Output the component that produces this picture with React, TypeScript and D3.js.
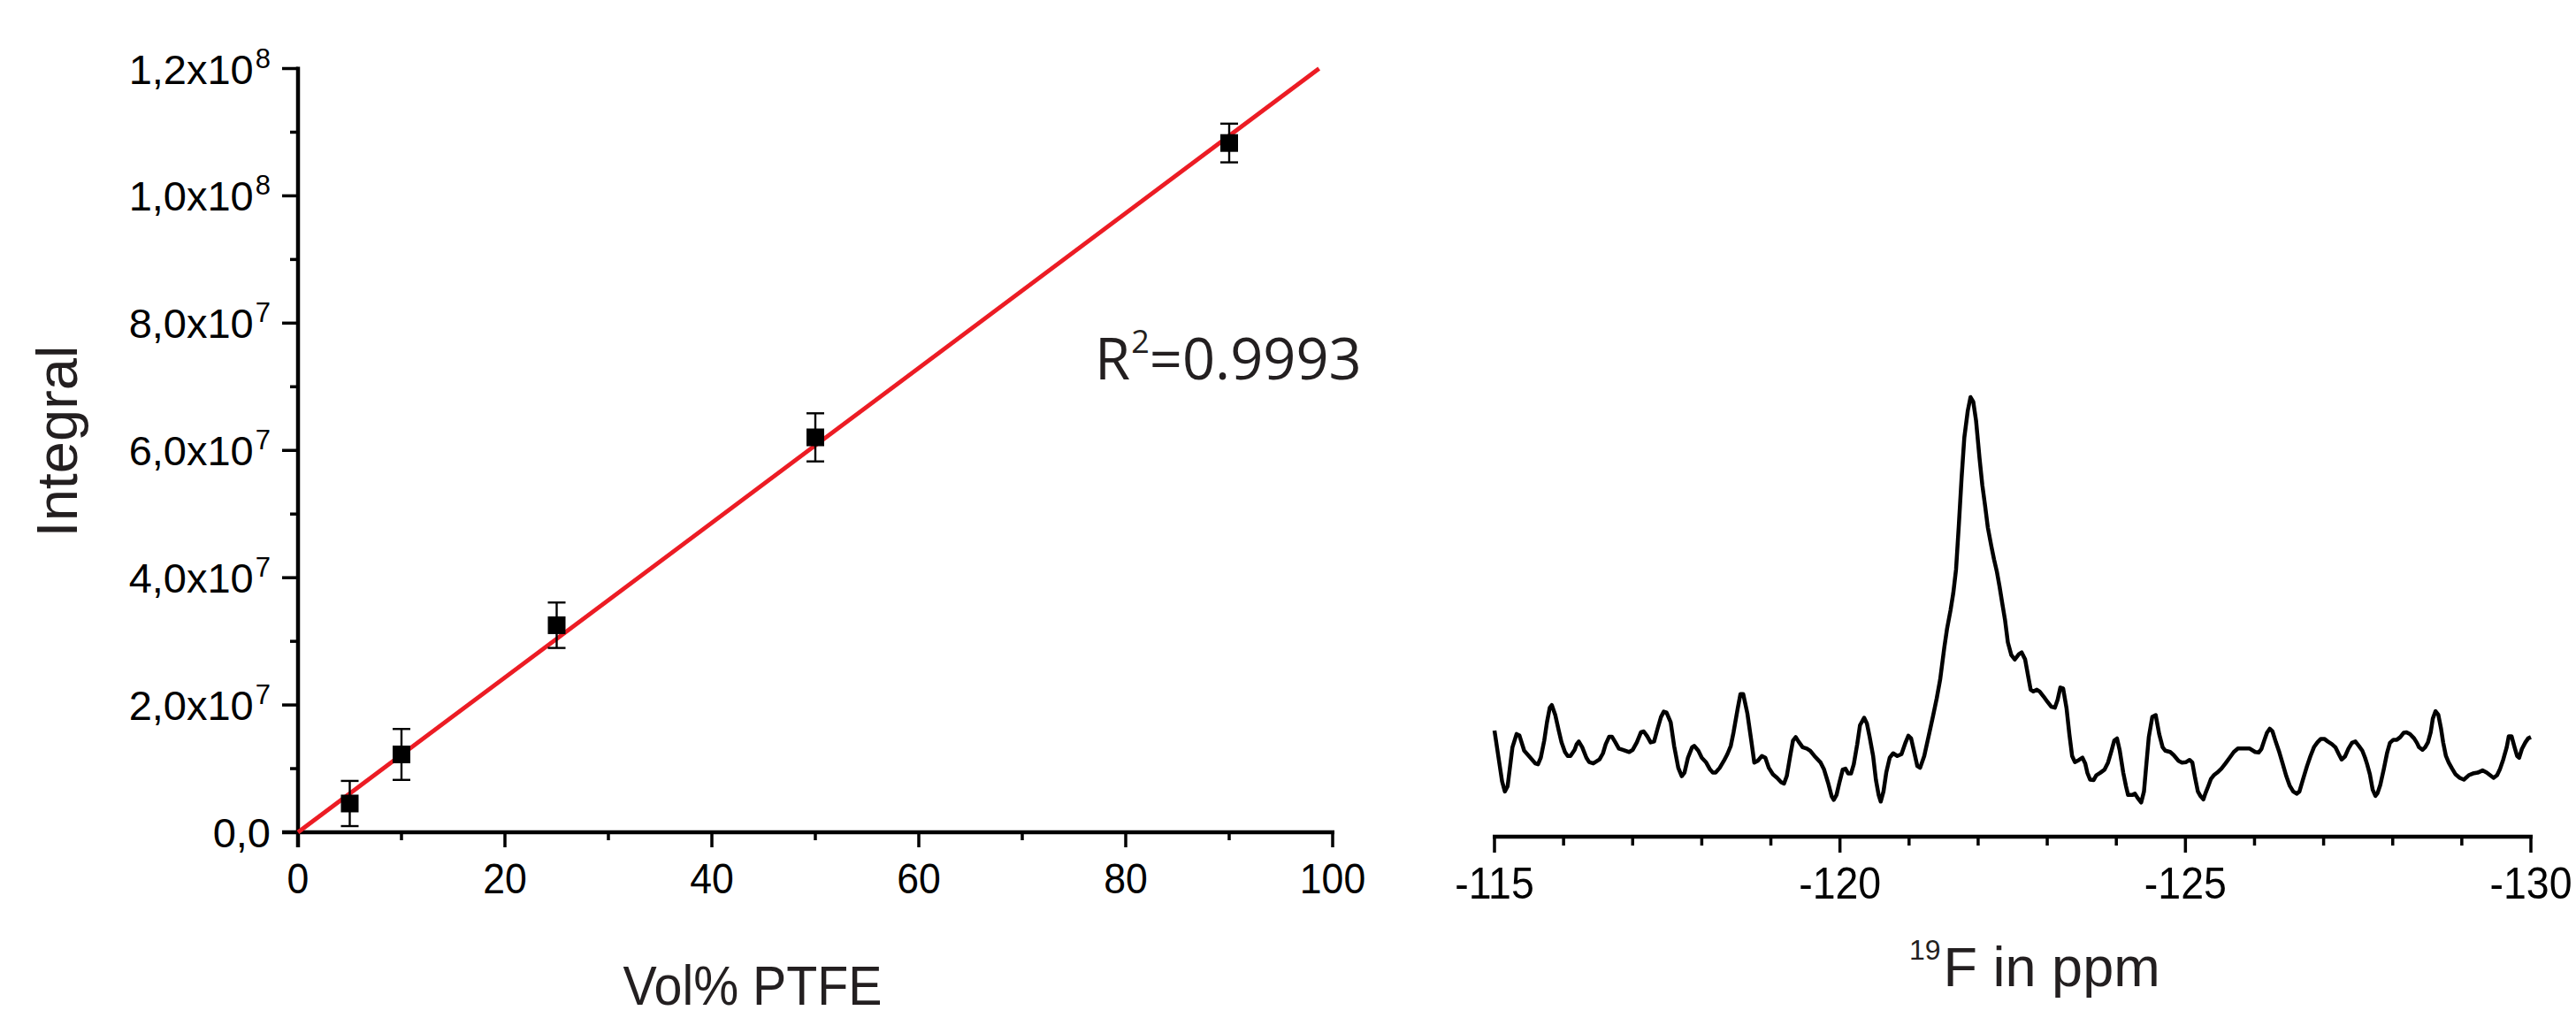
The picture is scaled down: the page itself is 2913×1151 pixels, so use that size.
import React from "react";
import * as d3 from "d3";

// ---------- Left panel: calibration ----------
const volPercent = [5, 10, 25, 50, 90];
const integrals = [4.52e6, 12.23e6, 32.53e6, 62.05e6, 108.3e6];
const integralErrors = [3.55e6, 4.0e6, 3.57e6, 3.78e6, 3.04e6];
const fitSlope = 1.216e6; // integral per vol%
const r2Text = "=0.9993";
const xTicksLeft = [0, 20, 40, 60, 80, 100];
const xMinorLeft = [10, 30, 50, 70, 90];
const yTicksLeft = [0, 2e7, 4e7, 6e7, 8e7, 1e8, 1.2e8];
const yMinorLeft = [1e7, 3e7, 5e7, 7e7, 9e7, 1.1e8];

// ---------- Right panel: 19F spectrum ----------
const specTicks = [-115, -120, -125, -130];
const specMinor = [-116, -117, -118, -119, -121, -122, -123, -124, -126, -127, -128, -129];
const spectrum: [number, number][] = [
  [-115.0, 24.0], [-115.11, 12.4], [-115.15, 10.1], [-115.19, 11.3], [-115.26, 20.2], [-115.32, 23.2],
  [-115.36, 22.9], [-115.43, 19.4], [-115.52, 17.8], [-115.59, 16.5], [-115.63, 16.3], [-115.67, 17.8],
  [-115.72, 21.7], [-115.76, 25.9], [-115.8, 29.2], [-115.83, 29.8], [-115.88, 27.5], [-115.93, 24.0],
  [-115.97, 21.3], [-116.02, 19.1], [-116.06, 18.2], [-116.1, 18.2], [-116.16, 19.6], [-116.19, 20.9],
  [-116.22, 21.5], [-116.27, 20.2], [-116.33, 17.8], [-116.37, 16.8], [-116.43, 16.5], [-116.52, 17.4],
  [-116.57, 18.8], [-116.61, 20.9], [-116.66, 22.6], [-116.7, 22.6], [-116.75, 21.3], [-116.8, 19.9],
  [-116.86, 19.6], [-116.95, 19.1], [-117.0, 19.6], [-117.06, 21.3], [-117.12, 23.6], [-117.16, 23.8],
  [-117.21, 22.7], [-117.26, 21.3], [-117.31, 21.5], [-117.36, 24.4], [-117.41, 27.1], [-117.45, 28.3],
  [-117.49, 28.1], [-117.55, 25.9], [-117.6, 20.5], [-117.66, 15.5], [-117.71, 13.6], [-117.75, 14.4],
  [-117.8, 17.8], [-117.86, 20.2], [-117.89, 20.5], [-117.95, 19.4], [-118.0, 17.8], [-118.06, 16.8],
  [-118.12, 15.1], [-118.16, 14.4], [-118.2, 14.4], [-118.26, 15.5], [-118.32, 17.1], [-118.37, 18.6],
  [-118.42, 20.5], [-118.46, 23.6], [-118.52, 29.0], [-118.56, 32.3], [-118.6, 32.3], [-118.66, 27.9],
  [-118.72, 21.3], [-118.76, 16.7], [-118.81, 17.1], [-118.87, 18.2], [-118.92, 17.8], [-118.97, 15.5],
  [-119.03, 14.0], [-119.09, 13.2], [-119.15, 12.2], [-119.19, 11.9], [-119.23, 13.6], [-119.28, 18.2],
  [-119.32, 21.7], [-119.36, 22.5], [-119.4, 21.5], [-119.46, 20.2], [-119.52, 19.9], [-119.57, 19.4],
  [-119.63, 18.2], [-119.72, 16.7], [-119.77, 15.1], [-119.83, 12.0], [-119.88, 9.0], [-119.91, 8.2],
  [-119.95, 9.3], [-119.99, 12.0], [-120.04, 15.1], [-120.08, 15.3], [-120.12, 14.2], [-120.16, 14.2],
  [-120.2, 16.3], [-120.25, 20.9], [-120.29, 25.2], [-120.35, 26.9], [-120.39, 25.6], [-120.43, 22.5],
  [-120.48, 18.2], [-120.52, 12.8], [-120.56, 9.3], [-120.59, 7.8], [-120.63, 10.1], [-120.67, 14.4],
  [-120.72, 17.8], [-120.77, 18.8], [-120.83, 18.2], [-120.89, 18.6], [-120.95, 21.3], [-120.99, 22.8],
  [-121.03, 22.2], [-121.07, 19.4], [-121.12, 15.9], [-121.16, 15.5], [-121.22, 18.2], [-121.29, 23.2],
  [-121.35, 27.5], [-121.4, 31.3], [-121.45, 35.6], [-121.51, 42.9], [-121.55, 47.2], [-121.6, 51.4],
  [-121.64, 55.3], [-121.68, 60.7], [-121.72, 70.7], [-121.76, 81.5], [-121.8, 90.8], [-121.85, 96.9],
  [-121.89, 100.0], [-121.93, 98.9], [-121.97, 94.6], [-122.02, 86.1], [-122.06, 80.0], [-122.1, 75.3],
  [-122.14, 70.3], [-122.19, 66.1], [-122.23, 63.0], [-122.27, 60.3], [-122.31, 56.8], [-122.35, 52.9],
  [-122.39, 49.1], [-122.43, 44.1], [-122.48, 41.2], [-122.53, 40.2], [-122.59, 41.4], [-122.63, 41.8],
  [-122.68, 40.2], [-122.72, 36.7], [-122.76, 33.3], [-122.8, 32.9], [-122.85, 33.3], [-122.89, 32.9],
  [-122.95, 31.7], [-123.0, 30.6], [-123.06, 29.4], [-123.11, 29.2], [-123.15, 31.0], [-123.19, 33.8],
  [-123.23, 33.6], [-123.28, 29.0], [-123.32, 23.2], [-123.36, 18.2], [-123.4, 16.8],
  [-123.46, 17.3], [-123.51, 17.8], [-123.55, 16.5], [-123.58, 14.4], [-123.62, 12.8], [-123.67, 12.7],
  [-123.71, 13.8], [-123.77, 14.4], [-123.83, 15.1], [-123.88, 16.7], [-123.93, 19.4], [-123.97, 21.7],
  [-124.01, 22.2], [-124.05, 19.4], [-124.1, 14.4], [-124.14, 11.3], [-124.17, 9.3], [-124.23, 9.3],
  [-124.27, 9.6], [-124.31, 8.6], [-124.36, 7.6], [-124.4, 10.1], [-124.43, 15.5], [-124.47, 22.5],
  [-124.52, 27.1], [-124.57, 27.5], [-124.62, 23.2], [-124.67, 20.2], [-124.71, 19.4], [-124.78, 19.1],
  [-124.83, 18.4], [-124.9, 17.1], [-124.95, 16.7], [-125.01, 16.8], [-125.06, 17.3], [-125.1, 16.7],
  [-125.14, 13.2], [-125.18, 10.1], [-125.22, 9.0], [-125.26, 8.3], [-125.29, 9.7], [-125.33, 11.3],
  [-125.37, 13.0], [-125.41, 13.8], [-125.46, 14.4], [-125.52, 15.3], [-125.58, 16.5], [-125.64, 17.8],
  [-125.7, 19.1], [-125.76, 19.9], [-125.83, 19.9], [-125.93, 19.9], [-126.01, 19.1], [-126.06, 19.0],
  [-126.1, 19.8], [-126.14, 21.7], [-126.18, 23.5], [-126.22, 24.4], [-126.26, 23.8], [-126.31, 21.3],
  [-126.36, 19.0], [-126.41, 16.3], [-126.46, 13.6], [-126.51, 11.4], [-126.56, 10.1], [-126.61, 9.6],
  [-126.65, 10.1], [-126.7, 12.8], [-126.76, 15.9], [-126.81, 18.2], [-126.86, 20.2], [-126.91, 21.3],
  [-126.96, 22.1], [-127.01, 22.1], [-127.06, 21.5], [-127.12, 20.9], [-127.17, 20.2], [-127.22, 18.6],
  [-127.26, 17.4], [-127.31, 18.1], [-127.36, 19.9], [-127.41, 21.2], [-127.46, 21.5], [-127.51, 20.5],
  [-127.56, 19.4], [-127.6, 17.8], [-127.63, 16.3], [-127.67, 14.0], [-127.71, 10.5], [-127.75, 9.1],
  [-127.78, 9.7], [-127.82, 11.6], [-127.87, 15.1], [-127.92, 19.0], [-127.96, 21.2], [-128.01, 21.9],
  [-128.06, 21.9], [-128.11, 22.5], [-128.16, 23.5], [-128.2, 23.6], [-128.25, 23.2], [-128.31, 22.2],
  [-128.35, 21.2], [-128.38, 20.2], [-128.43, 19.6], [-128.47, 20.2], [-128.51, 21.3], [-128.55, 23.6],
  [-128.58, 26.7], [-128.62, 28.4], [-128.66, 27.6], [-128.7, 24.4], [-128.73, 21.3], [-128.77, 18.2],
  [-128.81, 16.7], [-128.86, 15.3], [-128.91, 14.0], [-128.97, 13.2], [-129.03, 12.8], [-129.1, 13.8],
  [-129.16, 14.2], [-129.23, 14.4], [-129.3, 14.9], [-129.36, 14.4], [-129.41, 13.8], [-129.46, 13.2],
  [-129.51, 13.8], [-129.55, 15.1], [-129.6, 17.4], [-129.65, 20.2], [-129.68, 22.7], [-129.72, 22.7],
  [-129.76, 20.4], [-129.8, 18.2], [-129.83, 17.8], [-129.87, 19.8], [-129.92, 21.3], [-129.96, 22.2],
  [-130.0, 22.5],
];

const W = 2913;
const H = 1151;
const FONT = "'Liberation Sans', Arial, sans-serif";
const TITLE = "#231f20";

function fmtSci(v: number): [string, string | null] {
  if (v === 0) return ["0,0", null];
  const e = Math.floor(Math.log10(v) + 1e-9);
  const m = v / Math.pow(10, e);
  return [m.toFixed(1).replace(".", ",") + "x10", String(e)];
}

export default function App() {
  // left scales
  const xL = d3.scaleLinear().domain([0, 100]).range([337, 1507]);
  const yL = d3.scaleLinear().domain([0, 1.2e8]).range([941, 77.5]);
  // right scales
  const xS = d3.scaleLinear().domain([-115, -130]).range([1690, 2862]);
  const yS = d3.scaleLinear().domain([0, 100]).range([945, 449]);

  const fitEnd = yL.domain()[1] / fitSlope;
  const fitLine = d3.line<number>().x((d) => xL(d)).y((d) => yL(d * fitSlope))([0, fitEnd]) || "";
  const specPath =
    d3.line<[number, number]>().x((d) => xS(d[0])).y((d) => yS(d[1]))(spectrum) || "";

  const axisY = yL(0);
  const axisX = xL(0);
  const sAxisY = 946;
  const sq = 20;

  return (
    <svg
      width={W}
      height={H}
      viewBox={`0 0 ${W} ${H}`}
      style={{ position: "absolute", left: 0, top: 0, background: "#fff" }}
    >
      <rect x={0} y={0} width={W} height={H} fill="#fff" />

      {/* ----- Left panel ----- */}
      <g stroke="#000" strokeWidth={3.5}>
        <line x1={axisX - 18} x2={xL(100) + 2} y1={axisY} y2={axisY} strokeWidth={4.5} />
        <line x1={axisX} x2={axisX} y1={yL(1.2e8) - 2} y2={axisY + 17} strokeWidth={4.5} />
        {yTicksLeft.map((t) => (
          <line key={"yt" + t} x1={axisX - 18} x2={axisX} y1={yL(t)} y2={yL(t)} />
        ))}
        {yMinorLeft.map((t) => (
          <line key={"ym" + t} x1={axisX - 9} x2={axisX} y1={yL(t)} y2={yL(t)} />
        ))}
        {xTicksLeft.map((t) => (
          <line key={"xt" + t} x1={xL(t)} x2={xL(t)} y1={axisY} y2={axisY + 17} />
        ))}
        {xMinorLeft.map((t) => (
          <line key={"xm" + t} x1={xL(t)} x2={xL(t)} y1={axisY} y2={axisY + 9} />
        ))}
      </g>

      {yTicksLeft.map((t) => {
        const [main, sup] = fmtSci(t);
        return (
          <text
            key={"yl" + t}
            x={306}
            y={yL(t) + 17}
            textAnchor="end"
            fontFamily={FONT}
            fontSize={47}
            fill="#000"
          >
            {main}
            {sup && (
              <tspan fontSize={31} dy={-18} dx={2}>
                {sup}
              </tspan>
            )}
          </text>
        );
      })}

      {xTicksLeft.map((t) => (
        <text
          key={"xl" + t}
          transform={`translate(${xL(t)},1010) scale(0.91,1)`}
          textAnchor="middle"
          fontFamily={FONT}
          fontSize={49}
          fill="#000"
        >
          {t}
        </text>
      ))}

      <text
        transform={`translate(87,499) rotate(-90)`}
        textAnchor="middle"
        fontFamily={FONT}
        fontSize={65}
        fill={TITLE}
      >
        Integral
      </text>
      <text
        transform={`translate(851,1136) scale(0.91,1)`}
        textAnchor="middle"
        fontFamily={FONT}
        fontSize={63}
        fill={TITLE}
      >
        Vol% PTFE
      </text>

      {/* fit line */}
      <path d={fitLine} fill="none" stroke="#ec1c24" strokeWidth={4.8} />

      {/* error bars and points */}
      <g stroke="#000" strokeWidth={2.4}>
        {volPercent.map((v, i) => {
          const cx = xL(v);
          const top = yL(integrals[i] + integralErrors[i]);
          const bot = yL(integrals[i] - integralErrors[i]);
          return (
            <g key={"eb" + v}>
              <line x1={cx} x2={cx} y1={top} y2={bot} />
              <line x1={cx - sq / 2} x2={cx + sq / 2} y1={top} y2={top} />
              <line x1={cx - sq / 2} x2={cx + sq / 2} y1={bot} y2={bot} />
            </g>
          );
        })}
      </g>
      {volPercent.map((v, i) => (
        <rect
          key={"pt" + v}
          x={xL(v) - sq / 2}
          y={yL(integrals[i]) - sq / 2}
          width={sq}
          height={sq}
          fill="#000"
        />
      ))}

      <text x={1238} y={429} fontFamily="'Open Sans', sans-serif" fontSize={65} fill={TITLE}>
        R
        <tspan fontSize={36} dy={-30} dx={1}>
          2
        </tspan>
        <tspan dy={30}>{r2Text}</tspan>
      </text>

      {/* ----- Right panel ----- */}
      <path
        d={specPath}
        fill="none"
        stroke="#000"
        strokeWidth={4.5}
        strokeLinejoin="round"
        strokeLinecap="butt"
      />
      <g stroke="#000" strokeWidth={3.5}>
        <line x1={xS(-115) - 2} x2={xS(-130) + 2} y1={sAxisY} y2={sAxisY} strokeWidth={4.5} />
        {specTicks.map((t) => (
          <line key={"st" + t} x1={xS(t)} x2={xS(t)} y1={sAxisY} y2={sAxisY + 18} />
        ))}
        {specMinor.map((t) => (
          <line key={"sm" + t} x1={xS(t)} x2={xS(t)} y1={sAxisY} y2={sAxisY + 10} />
        ))}
      </g>
      {specTicks.map((t) => (
        <text
          key={"sl" + t}
          transform={`translate(${xS(t)},1016) scale(0.93,1)`}
          textAnchor="middle"
          fontFamily={FONT}
          fontSize={50}
          fill="#000"
        >
          {t}
        </text>
      ))}
      <text x={2159} y={1115} fontFamily={FONT} fontSize={63} fill={TITLE}>
        <tspan fontSize={32} dy={-30}>
          19
        </tspan>
        <tspan dy={30} dx={3}>
          F in ppm
        </tspan>
      </text>
    </svg>
  );
}
